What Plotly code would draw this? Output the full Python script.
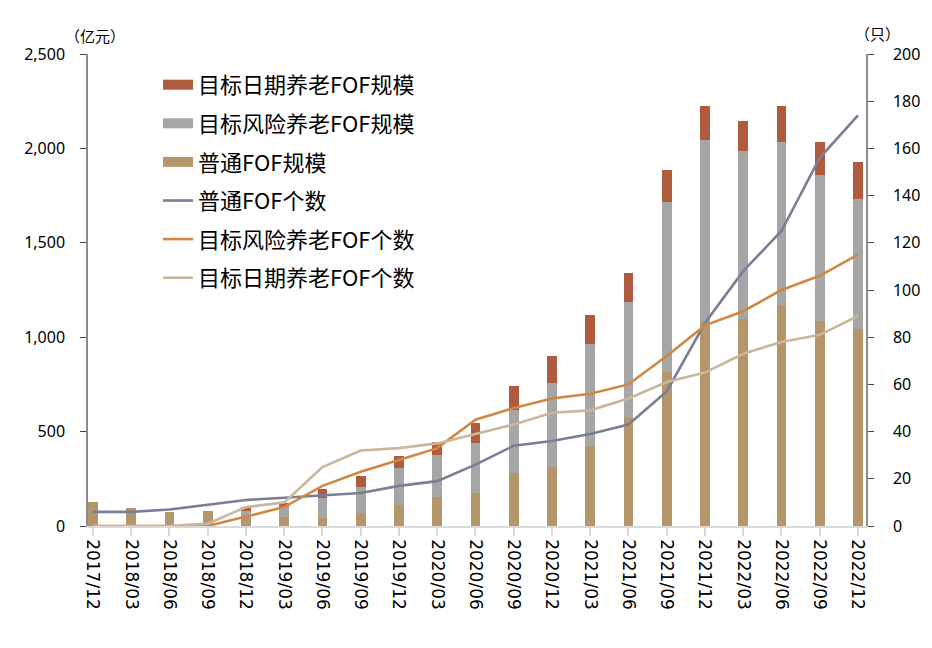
import plotly.graph_objects as go

categories = ["2017/12", "2018/03", "2018/06", "2018/09", "2018/12", "2019/03", "2019/06",
              "2019/09", "2019/12", "2020/03", "2020/06", "2020/09", "2020/12", "2021/03",
              "2021/06", "2021/09", "2021/12", "2022/03", "2022/06", "2022/09", "2022/12"]

# 规模（亿元）
putong_scale = [127, 94, 76, 78, 47, 50, 42, 70, 113, 155, 175, 282, 313, 425, 574, 816, 1087, 1096, 1165, 1087, 1042]
risk_scale = [0, 0, 0, 0, 31, 50, 104, 136, 193, 221, 263, 332, 444, 540, 611, 899, 957, 890, 869, 770, 690]
date_scale = [0, 0, 0, 0, 21, 23, 49, 59, 66, 70, 106, 127, 145, 152, 157, 170, 180, 157, 189, 177, 196]

# 个数（只）
putong_count = [6, 6, 7, 9, 11, 12, 13, 14, 17, 19, 26, 34, 36, 39, 43, 57, 86, 108, 125, 156, 174]
risk_count = [0, 0, 0, 0, 4, 8, 17, 23, 28, 33, 45, 50, 54, 56, 60, 72, 85, 91, 100, 106, 115]
date_count = [0, 0, 0, 1, 8, 10, 25, 32, 33, 35, 39, 43, 48, 49, 54, 61, 65, 73, 78, 81, 89]

left_ticks = [0, 500, 1000, 1500, 2000, 2500]
right_ticks = list(range(0, 201, 20))

C_TAN = "#b4966a"
C_GRAY = "#a6a6a6"
C_RED = "#b05b3e"
C_BLUE = "#7a7e96"
C_ORANGE = "#cf8944"
C_BEIGE = "#c9b79c"

W, H = 924, 640
ML, MR, MT, MB = 80, 64, 46, 122

fig = go.Figure()
# stacked bars (legend shown via swatch entries below)
fig.add_trace(go.Bar(x=categories, y=putong_scale, name="普通FOF规模", marker_color=C_TAN,
                     marker_line_width=0, showlegend=False))
fig.add_trace(go.Bar(x=categories, y=risk_scale, name="目标风险养老FOF规模", marker_color=C_GRAY,
                     marker_line_width=0, showlegend=False))
fig.add_trace(go.Bar(x=categories, y=date_scale, name="目标日期养老FOF规模", marker_color=C_RED,
                     marker_line_width=0, showlegend=False))

# legend swatches for bars (wide rectangles)
for nm, col, g in [("目标日期养老FOF规模", C_RED, "a"),
                   ("目标风险养老FOF规模", C_GRAY, "b"),
                   ("普通FOF规模", C_TAN, "c")]:
    fig.add_trace(go.Scatter(x=[None], y=[None], mode="lines", name=nm,
                             line=dict(color=col, width=12), legendgroup=g,
                             hoverinfo="skip"))

fig.add_trace(go.Scatter(x=categories, y=putong_count, name="普通FOF个数", mode="lines",
                         line=dict(color=C_BLUE, width=2.6), yaxis="y2", legendgroup="d"))
fig.add_trace(go.Scatter(x=categories, y=risk_count, name="目标风险养老FOF个数", mode="lines",
                         line=dict(color=C_ORANGE, width=2.6), yaxis="y2", legendgroup="e"))
fig.add_trace(go.Scatter(x=categories, y=date_count, name="目标日期养老FOF个数", mode="lines",
                         line=dict(color=C_BEIGE, width=2.6), yaxis="y2", legendgroup="f"))

font_family = "Noto Sans CJK SC, Noto Sans, sans-serif"
pw = W - ML - MR
ph = H - MT - MB


def px2paper(x, y):
    return (x - ML) / pw, (H - MB - y) / ph


ax1, ay1 = px2paper(87, 27)
ax2, ay2 = px2paper(872, 25)

fig.update_layout(
    width=W, height=H,
    margin=dict(l=ML, r=MR, t=MT, b=MB),
    paper_bgcolor="white", plot_bgcolor="white",
    barmode="stack", bargap=0.74,
    font=dict(family=font_family, size=16, color="#000000"),
    showlegend=True,
    legend=dict(x=0.09, y=0.979, xanchor="left", yanchor="top",
                bgcolor="rgba(0,0,0,0)", font=dict(size=22, family=font_family),
                traceorder="grouped", tracegroupgap=7, itemwidth=30),
    xaxis=dict(type="category", range=[-0.13, 20.21], tickangle=90,
               showline=True, linecolor="#d9d9d9", linewidth=1.5,
               ticks="outside", tickcolor="#d9d9d9", ticklen=8, tickwidth=1.5,
               showgrid=False, tickfont=dict(size=17, family="DejaVu Sans, sans-serif")),
    yaxis=dict(range=[0, 2500], tickvals=left_ticks, tickformat=",",
               showline=True, linecolor="#8c8c8c", linewidth=1.5,
               ticks="outside", tickcolor="#444444", ticklen=6,
               showgrid=False, zeroline=False, ticklabelstandoff=12,
               tickfont=dict(size=16, family="Noto Sans, sans-serif")),
    yaxis2=dict(range=[0, 200], tickvals=right_ticks, overlaying="y", side="right",
                showline=True, linecolor="#8c8c8c", linewidth=1.5,
                ticks="outside", tickcolor="#444444", ticklen=6,
                showgrid=False, zeroline=False, ticklabelstandoff=16,
                tickfont=dict(size=16, family="Noto Sans, sans-serif")),
    annotations=[
        dict(text="（亿元）", x=ax1, y=ay1, xref="paper", yref="paper", showarrow=False,
             xanchor="center", yanchor="middle", font=dict(size=15, family=font_family)),
        dict(text="（只）", x=ax2, y=ay2, xref="paper", yref="paper", showarrow=False,
             xanchor="center", yanchor="middle", font=dict(size=15, family=font_family)),
    ],
)

fig.write_html("out.html")
